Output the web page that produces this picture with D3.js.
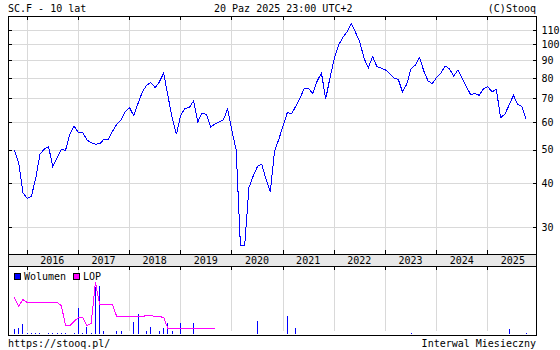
<!DOCTYPE html>
<html><head><meta charset="utf-8">
<script src="https://cdn.jsdelivr.net/npm/d3@7"></script>
<style>
body{margin:0;background:#fff;}
svg{display:block;}
text{font-family:"DejaVu Sans Mono",monospace;font-size:10px;fill:#000;}
</style></head><body><svg id="c" width="560" height="350"></svg>
<script>
// ---- data ----
const titleLeft = "SC.F - 10 lat";
const titleMid = "20 Paz 2025 23:00 UTC+2";
const titleRight = "(C)Stooq";
const footerLeft = "https://stooq.pl/";
const footerRight = "Interwal Miesieczny";
const legendLabels = ["Wolumen", "LOP"];
const years = [2016, 2017, 2018, 2019, 2020, 2021, 2022, 2023, 2024, 2025];
const yTicks = [30, 40, 50, 60, 70, 80, 90, 100, 110];
const firstMonth = -3; // Oct 2015, month index relative to Jan 2016
// monthly close, Oct 2015 .. Oct 2025
const price = [
  49.8, 45.8, 37.6,
  36.2, 36.8, 41.3, 48.5, 50.1, 51.0, 44.7, 47.4, 49.9, 49.8, 55.3, 58.4,
  55.9, 55.9, 53.3, 52.3, 51.8, 51.9, 53.5, 53.5, 56.3, 59.1, 60.6, 64.1,
  65.9, 62.4, 67.8, 73.1, 76.4, 77.7, 75.2, 78.1, 82.7, 71.2, 61.7, 55.3,
  62.7, 65.6, 65.9, 68.9, 60.0, 63.5, 63.1, 58.0, 59.1, 60.0, 60.8, 65.3,
  56.5, 49.9, 26.5, 26.6, 38.9, 42.0, 44.7, 45.4, 41.1, 37.9, 49.5, 53.5,
  58.4, 63.8, 63.3, 66.6, 70.4, 74.9, 74.7, 72.3, 78.6, 82.7, 69.8, 80.3,
  91.0, 99.5, 104.6, 108.6, 114.8, 108.1, 101.6, 91.0, 85.8, 92.3, 86.4, 85.5,
  84.5, 82.5, 80.0, 79.5, 73.1, 76.9, 85.2, 87.2, 91.7, 83.9, 78.6, 77.2,
  80.5, 82.7, 86.8, 85.1, 81.2, 84.5, 79.8, 75.4, 71.8, 72.3, 71.5, 74.7,
  75.7, 73.1, 74.4, 61.7, 63.1, 67.0, 71.5, 67.4, 66.3, 61.0
];
// monthly volume (relative units), same months as price
const volume = [
  5, 6, 10,
  1, 1, 1, 1, 0, 1, 1, 1, 1, 1, 0, 1,
  26, 1, 7, 1, 47, 48, 3, 0, 0, 3, 3, 0,
  0, 12, 20, 0, 3, 7, 0, 3, 6, 11, 3, 0,
  11, 0, 0, 11, 0, 0, 0, 0, 0, 0, 0, 0,
  0, 0, 0, 0, 0, 0, 13, 0, 0, 0, 0, 0,
  0, 18, 0, 6, 0, 0, 0, 0, 0, 0, 0, 0,
  0, 0, 0, 0, 0, 0, 0, 0, 0, 0, 0, 0,
  0, 0, 0, 0, 0, 0, 1, 0, 0, 0, 0, 0,
  0, 0, 0, 0, 0, 0, 0, 0, 0, 0, 0, 0,
  0, 0, 0, 0, 0, 5, 0, 0, 0, 1
];
// open interest (LOP), Oct 2015 .. Sep 2019 (relative units)
const lop = [
  36.7, 28, 34.7,
  32, 32, 32, 32, 32, 32, 32, 32, 29, 9.3, 9.3, 12.7,
  17.3, 16.7, 9.5, 10.7, 52, 30, 30, 30, 30, 18, 18, 18,
  18, 18, 18, 18, 18.7, 18.7, 18.3, 17.7, 17, 5.7, 5.7, 5.7,
  5.7, 5.7, 5.7, 5.7, 5.7, 5.7, 5.7, 5.7, 5.7
];

// ---- layout ----
const svg = d3.select("#c");
const L = 8, R = 536, T = 16, B = 254, BAND = 266, LB = 335;

const x = d3.scaleLinear().domain([-4.38, 119.42]).range([L, R]);
const y = d3.scaleLog().domain([25.1, 120.6]).range([B, T]);
const yv = d3.scaleLinear().domain([0, 68]).range([334, 266]);

const px = v => Math.round(v) + 0.5;
const gridColor = "#d9d9d9";

// band
svg.append("rect").attr("x", L).attr("y", B).attr("width", R - L).attr("height", BAND - B)
  .attr("fill", "#e8e8e8");

// vertical gridlines
const yearIdx = years.map(yr => (yr - 2016) * 12);
svg.append("g").selectAll("line").data(yearIdx).join("line")
  .attr("x1", d => px(x(d))).attr("x2", d => px(x(d)))
  .attr("y1", T).attr("y2", B)
  .attr("stroke", gridColor).attr("shape-rendering", "crispEdges");
svg.append("g").selectAll("line").data(yearIdx).join("line")
  .attr("x1", d => px(x(d))).attr("x2", d => px(x(d)))
  .attr("y1", BAND).attr("y2", 331)
  .attr("stroke", gridColor).attr("shape-rendering", "crispEdges");
// horizontal gridlines
svg.append("g").selectAll("line").data(yTicks).join("line")
  .attr("x1", L).attr("x2", R)
  .attr("y1", d => px(y(d))).attr("y2", d => px(y(d)))
  .attr("stroke", gridColor).attr("shape-rendering", "crispEdges");

// tick marks at year positions
const tickG = svg.append("g").attr("stroke", "#000").attr("shape-rendering", "crispEdges");
yearIdx.forEach(d => {
  const xx = px(x(d));
  tickG.append("line").attr("x1", xx).attr("x2", xx).attr("y1", T).attr("y2", T + 4);
  tickG.append("line").attr("x1", xx).attr("x2", xx).attr("y1", B - 4).attr("y2", B);
  tickG.append("line").attr("x1", xx).attr("x2", xx).attr("y1", BAND).attr("y2", BAND + 4);
});
// left inward ticks
yTicks.forEach(d => {
  tickG.append("line").attr("x1", L).attr("x2", L + 4).attr("y1", px(y(d))).attr("y2", px(y(d)));
});

// right axis (labels + inward ticks)
const axR = d3.axisRight(y).tickValues(yTicks).tickFormat(d3.format("d"))
  .tickSizeInner(-4).tickSizeOuter(0).tickPadding(5);
const gR = svg.append("g").attr("transform", `translate(${R + 0.5},0)`).call(axR);
gR.select(".domain").remove();
gR.selectAll(".tick line").attr("stroke", "#000").attr("shape-rendering", "crispEdges");
gR.selectAll(".tick text").attr("font-family", "DejaVu Sans Mono, monospace").attr("font-size", 10).attr("fill", "#000");

// year labels
svg.append("g").selectAll("text").data(years).join("text")
  .attr("x", d => x((d - 2016) * 12 + 6)).attr("y", 264)
  .attr("text-anchor", "middle").text(d => d);

// price line
const months = price.map((_, i) => firstMonth + i);
svg.append("path")
  .datum(price)
  .attr("fill", "none").attr("stroke", "#0000ff").attr("stroke-width", 1)
  .attr("shape-rendering", "crispEdges")
  .attr("d", d3.line().x((d, i) => x(months[i]) + 0.5).y(d => y(d)));

// volume bars
svg.append("g").selectAll("line").data(volume.map((v, i) => ({v, m: firstMonth + i})).filter(d => d.v > 0))
  .join("line")
  .attr("x1", d => px(x(d.m))).attr("x2", d => px(x(d.m)))
  .attr("y1", yv(0)).attr("y2", d => yv(d.v))
  .attr("stroke", "#0000ff").attr("shape-rendering", "crispEdges");

// LOP line
svg.append("path").datum(lop)
  .attr("fill", "none").attr("stroke", "#ff00ff").attr("stroke-width", 1)
  .attr("shape-rendering", "crispEdges")
  .attr("d", d3.line().x((d, i) => x(firstMonth + i) + 0.5).y(d => Math.round(yv(d)) + 0.5));

// frames
const fr = svg.append("g").attr("fill", "none").attr("stroke", "#000").attr("shape-rendering", "crispEdges");
fr.append("rect").attr("x", L + 0.5).attr("y", T + 0.5).attr("width", R - L).attr("height", LB - T);
fr.append("line").attr("x1", L).attr("x2", R + 1).attr("y1", B + 0.5).attr("y2", B + 0.5);
fr.append("line").attr("x1", L).attr("x2", R + 1).attr("y1", BAND + 0.5).attr("y2", BAND + 0.5);

// legend
const legendColors = ["#0000ff", "#ff00ff"];
const legendX = [14, 73];
legendLabels.forEach((lab, i) => {
  svg.append("rect").attr("x", legendX[i] + 0.5).attr("y", 273.5).attr("width", 6).attr("height", 6)
    .attr("fill", legendColors[i]).attr("stroke", "#000").attr("shape-rendering", "crispEdges");
  svg.append("text").attr("x", legendX[i] + 10).attr("y", 280).text(lab);
});

// header & footer
svg.append("text").attr("x", 8).attr("y", 12).text(titleLeft);
svg.append("text").attr("x", 214).attr("y", 12).text(titleMid);
svg.append("text").attr("x", 536).attr("y", 12).attr("text-anchor", "end").text(titleRight);
svg.append("text").attr("x", 8).attr("y", 347).text(footerLeft);
svg.append("text").attr("x", 536).attr("y", 347).attr("text-anchor", "end").text(footerRight);
</script></body></html>
